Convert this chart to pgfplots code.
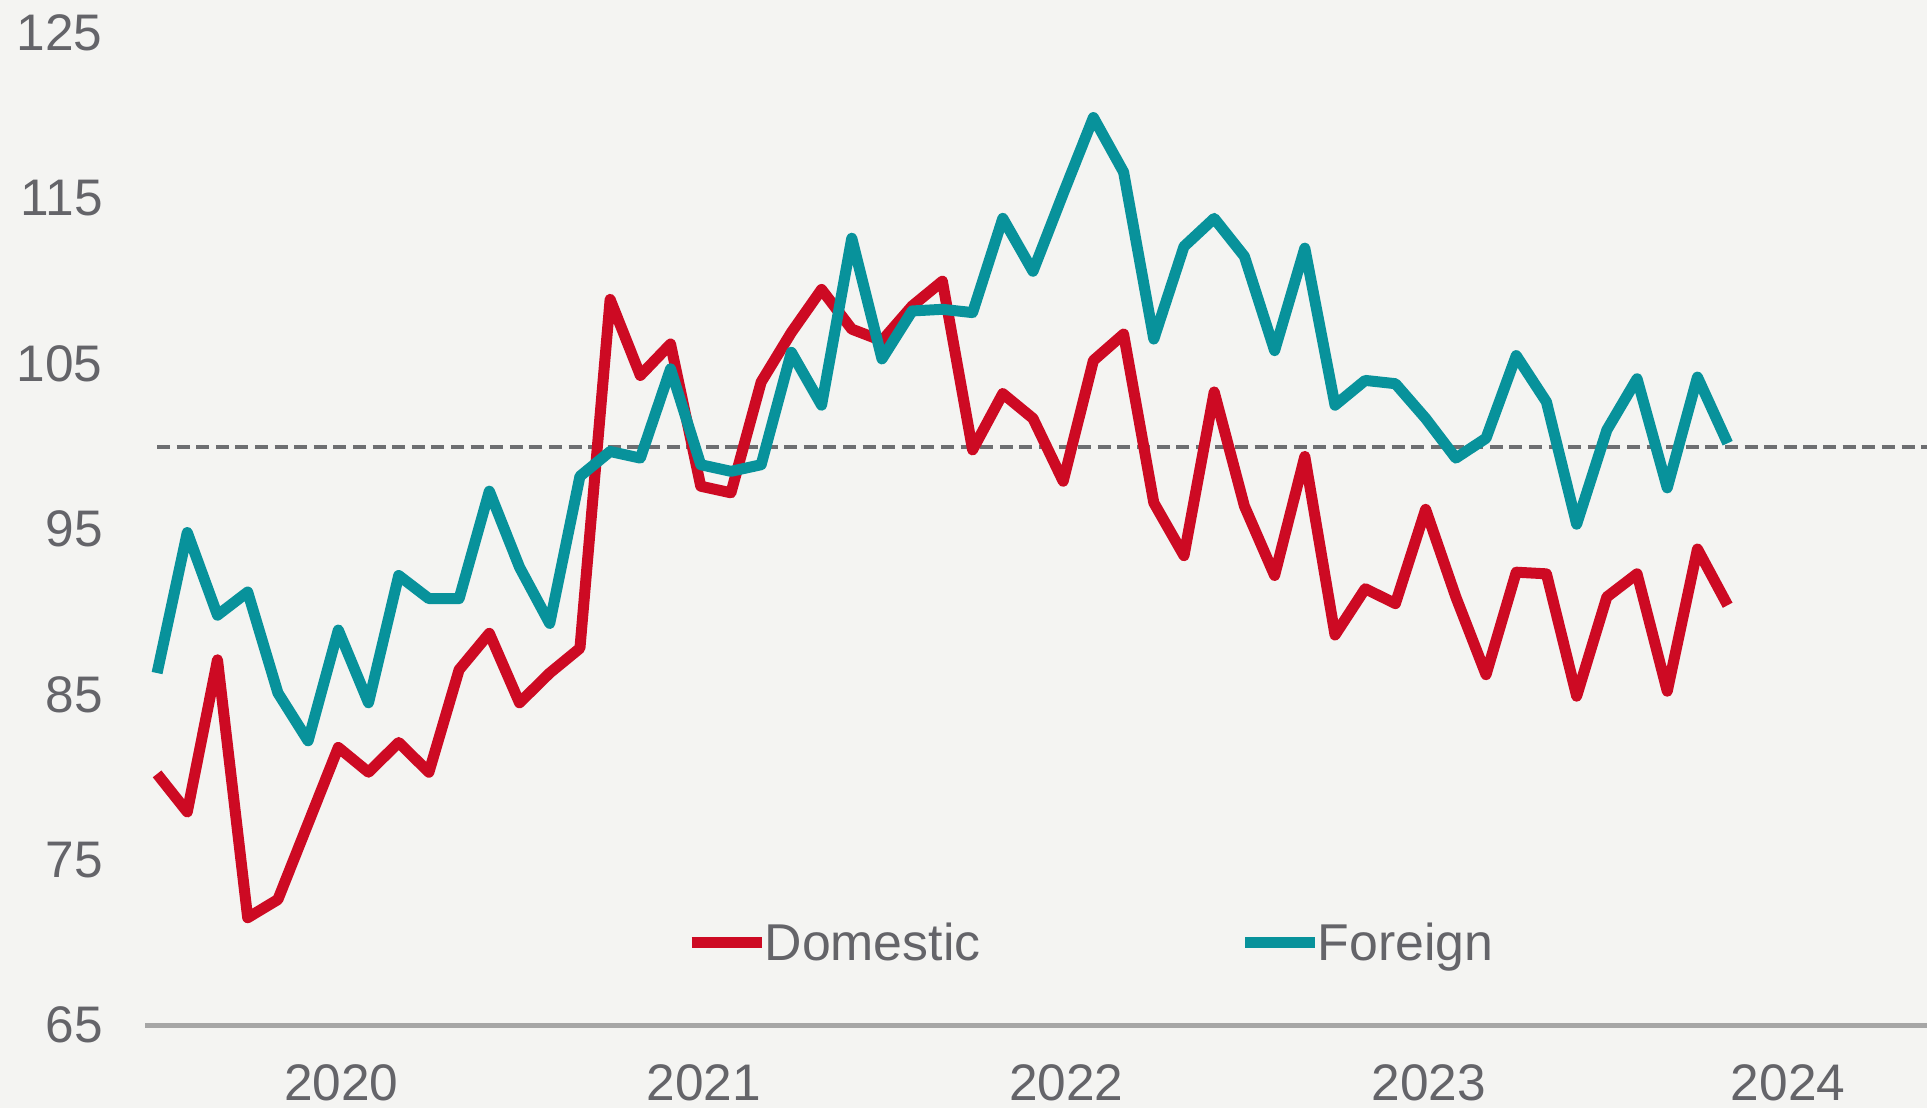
\documentclass[border=0pt]{standalone}
\usepackage{fontspec}
\setmainfont{Liberation Sans}
\usepackage{pgfplots}
\pgfplotsset{compat=1.18}

\definecolor{bg}{HTML}{F4F4F2}
\definecolor{dom}{HTML}{CD0A23}
\definecolor{frn}{HTML}{08929B}
\definecolor{txtgray}{HTML}{646469}
\definecolor{dashgray}{HTML}{6D6E71}
\definecolor{axgray}{HTML}{A6A6A6}

% monthly index, Jul 2019 = 0 ... Nov 2023 = 52
\pgfplotstableread{
x dom frn
0 80.2 86.3
1 77.9 94.8
2 87.1 89.8
3 71.5 91.2
4 72.6 85.1
5 77.2 82.2
6 81.8 88.9
7 80.3 84.5
8 82.1 92.2
9 80.3 90.8
10 86.5 90.8
11 88.7 97.3
12 84.5 92.7
13 86.3 89.3
14 87.8 98.2
15 108.9 99.7
16 104.3 99.3
17 106.2 104.7
18 97.6 98.9
19 97.2 98.5
20 103.9 98.9
21 106.9 105.7
22 109.5 102.5
23 107.1 112.6
24 106.4 105.3
25 108.5 108.2
26 110.0 108.3
27 99.8 108.1
28 103.2 113.8
29 101.7 110.6
30 97.9 115.3
31 105.2 119.9
32 106.8 116.6
33 96.6 106.5
34 93.4 112.1
35 103.3 113.8
36 96.4 111.5
37 92.2 105.8
38 99.4 112.0
39 88.6 102.5
40 91.4 104.0
41 90.5 103.8
42 96.2 101.7
43 90.9 99.3
44 86.2 100.5
45 92.4 105.5
46 92.3 102.7
47 84.9 95.3
48 90.9 101.0
49 92.3 104.1
50 85.2 97.5
51 93.8 104.2
52 90.4 100.2
}\datatable

\begin{document}
\begin{tikzpicture}
\path[use as bounding box, fill=bg] (-72.5bp,-41.5bp) rectangle (891bp,512.6bp);
\begin{axis}[
  scale only axis,
  width=891bp,
  height=496bp,
  xmin=-0.4, xmax=58.6,
  ymin=65, ymax=125,
  axis x line=bottom,
  axis y line=left,
  x axis line style={-, draw=axgray, line width=2.5bp},
  y axis line style={draw=none},
  major tick length=0pt,
  xtick={6.1,18.1,30.1,42.1,54},
  xticklabels={2020,2021,2022,2023,2024},
  ytick={65,75,...,125},
  /pgf/number format/assume math mode=true,
  ticklabel style={font=\fontsize{25.8}{30}\selectfont, text=txtgray, inner sep=0pt},
  xticklabel style={anchor=north, yshift=-19.5bp},
  yticklabel style={anchor=east, xshift=-21bp},
  legend columns=2,
  legend style={
    at={(axis description cs:0.3035,0.083)}, anchor=west,
    draw=none, fill=none, inner sep=0pt,
    font=\fontsize{26}{30}\selectfont, text=txtgray,
    nodes={inner xsep=0.5bp, inner ysep=1bp},
    /tikz/every odd column/.append style={column sep=-1.8bp},
    /tikz/every even column/.append style={column sep=129bp}
  },
  legend image code/.code={\draw[#1, line cap=butt] (0bp,0bp) -- (35bp,0bp);},
  every axis plot/.append style={line join=round, line cap=butt},
]
\addplot[dashgray, line width=2bp, dash pattern=on 6.5bp off 3.3bp, forget plot]
  coordinates {(0,100) (58.6,100)};
\addplot[dom, line width=5.5bp] table[x=x, y=dom] {\datatable};
\addlegendentry{Domestic}
\addplot[frn, line width=5.5bp] table[x=x, y=frn] {\datatable};
\addlegendentry{Foreign}
\end{axis}
\end{tikzpicture}
\end{document}
